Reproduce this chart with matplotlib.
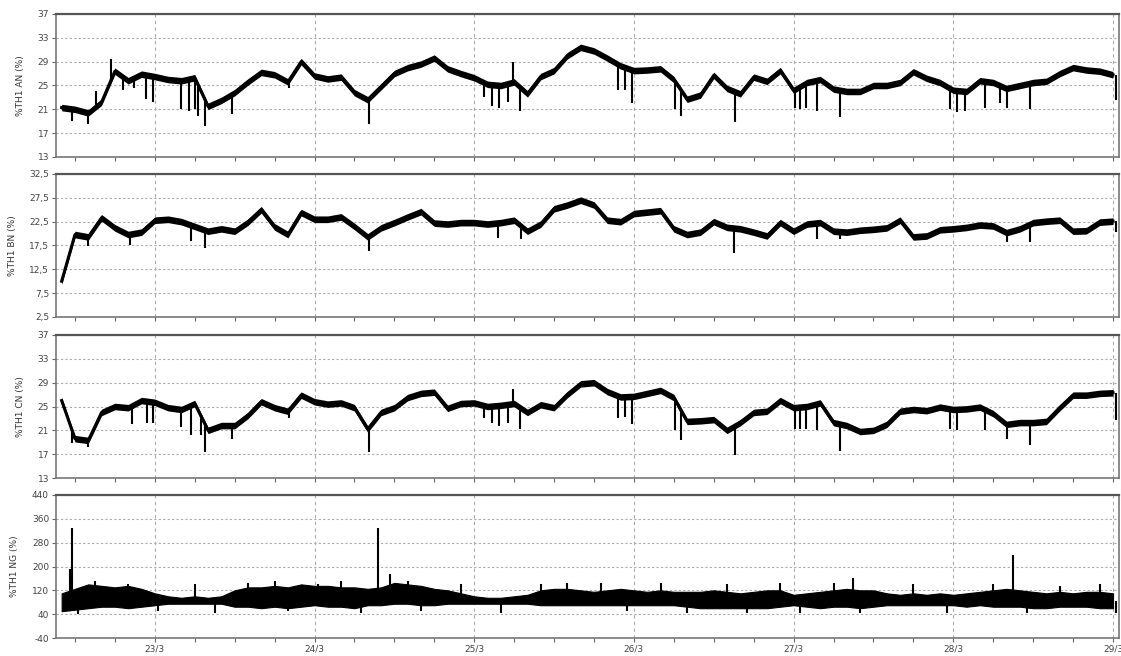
import numpy as np
import matplotlib.pyplot as plt

# time axis in hours counted from 22/3 00:00, one sample every 2 hours
hours = np.arange(10, 170, 2)

an_base = [21.3, 21.0, 20.4, 22.2, 27.4, 25.8, 26.9, 26.5, 26.0, 25.8,
           26.3, 21.5, 22.5, 23.8, 25.6, 27.2, 26.8, 25.6, 29.0, 26.6,
           26.1, 26.4, 23.8, 22.6, 24.8, 27.0, 28.0, 28.6, 29.6, 27.8,
           27.0, 26.3, 25.2, 25.0, 25.6, 23.6, 26.5, 27.5, 30.0, 31.4,
           30.8, 29.6, 28.3, 27.5, 27.6, 27.8, 26.0, 22.7, 23.4, 26.7,
           24.5, 23.6, 26.4, 25.7, 27.5, 24.2, 25.5, 26.0, 24.4, 24.0,
           24.0, 25.0, 25.0, 25.5, 27.3, 26.2, 25.5, 24.2, 24.0, 25.8,
           25.5, 24.5, 25.0, 25.5, 25.7, 27.0, 28.0, 27.6, 27.4, 26.8]
an_spike_t = [11.5, 13.9, 15.1, 17.4, 19.2, 20.8, 22.7, 23.8, 27.9, 29.2,
              30.0, 30.5, 31.5, 35.6, 44.1, 56.2, 73.4, 74.7, 75.8, 77.1,
              77.9, 78.9, 93.6, 94.6, 95.7, 102.1, 103.1, 111.2, 120.2, 121.0,
              121.8, 123.5, 126.9, 143.5, 144.5, 145.7, 148.7, 151.0, 152.0, 155.6,
              168.4]
an_spike_v = [19.0, 18.5, 24.1, 29.4, 24.3, 24.6, 22.7, 22.2, 21.0, 20.8,
              21.0, 19.9, 18.2, 20.2, 24.6, 18.5, 23.0, 21.6, 21.3, 22.2,
              29.0, 20.7, 24.3, 24.3, 22.1, 21.0, 19.9, 18.8, 21.3, 21.0,
              21.3, 20.7, 19.7, 21.0, 20.5, 20.8, 21.3, 22.0, 21.3, 21.0,
              22.5]

bn_base = [10.0, 19.8, 19.3, 23.3, 21.2, 19.8, 20.3, 22.8, 23.0, 22.5,
           21.5, 20.5, 21.0, 20.5, 22.4, 25.0, 21.4, 19.8, 24.4, 23.0,
           23.0, 23.5, 21.5, 19.3, 21.2, 22.3, 23.5, 24.6, 22.2, 22.0,
           22.3, 22.3, 22.0, 22.3, 22.8, 20.5, 22.0, 25.2, 26.0, 27.0,
           26.0, 22.8, 22.5, 24.2, 24.5, 24.8, 21.0, 19.8, 20.3, 22.5,
           21.3, 21.0, 20.3, 19.5, 22.3, 20.5, 22.0, 22.3, 20.5, 20.3,
           20.7, 20.9, 21.2, 22.8, 19.3, 19.5, 20.8, 21.0, 21.3, 21.8,
           21.6, 20.2, 21.0, 22.3, 22.6, 22.8, 20.5, 20.6, 22.4, 22.6]
bn_spike_t = [13.9, 20.3, 29.5, 31.5, 56.2, 75.6, 79.1, 111.0, 123.5, 126.9,
              152.0, 155.6, 168.4]
bn_spike_v = [17.4, 17.5, 18.4, 17.0, 16.3, 19.0, 18.8, 16.0, 18.8, 18.8,
              18.2, 18.2, 20.4]

cn_base = [26.0, 19.6, 19.3, 24.0, 25.0, 24.8, 26.0, 25.7, 24.8, 24.5,
           25.5, 21.0, 21.8, 21.8, 23.5, 25.8, 24.8, 24.2, 26.9, 25.8,
           25.4, 25.6, 24.8, 21.2, 24.0, 24.8, 26.5, 27.2, 27.4, 24.7,
           25.5, 25.6, 25.0, 25.2, 25.5, 24.0, 25.3, 24.8, 27.0, 28.8,
           29.0, 27.5, 26.6, 26.7, 27.2, 27.7, 26.5, 22.5, 22.6, 22.8,
           21.0, 22.3, 24.0, 24.2, 26.0, 24.8, 25.0, 25.6, 22.3, 21.8,
           20.8, 21.0, 22.0, 24.2, 24.5, 24.3, 24.9, 24.5, 24.6, 24.9,
           23.8, 22.0, 22.3, 22.3, 22.5, 24.8, 26.9, 26.9, 27.2, 27.3]
cn_spike_t = [11.5, 13.9, 20.5, 22.8, 23.8, 27.9, 29.5, 31.0, 31.5, 35.6,
              44.1, 56.2, 73.4, 74.7, 75.8, 77.1, 77.9, 78.9, 93.6, 94.6,
              95.7, 102.1, 103.1, 111.2, 120.2, 121.0, 121.8, 123.5, 126.9, 143.5,
              144.5, 148.7, 152.0, 155.6, 168.4]
cn_spike_v = [18.8, 18.2, 22.0, 22.3, 22.3, 21.5, 20.2, 20.2, 17.4, 19.6,
              23.0, 17.4, 23.1, 22.3, 21.7, 22.3, 28.0, 21.3, 23.0, 23.3,
              22.1, 21.0, 19.3, 16.8, 21.3, 21.3, 21.3, 21.0, 17.6, 21.3,
              21.0, 21.0, 19.6, 18.5, 22.8]

# neutral: low / high edge of the noisy band
ng_lo = [50, 55, 60, 65, 65, 60, 65, 70, 75, 75,
         75, 75, 75, 65, 65, 60, 65, 60, 65, 70,
         65, 65, 60, 70, 70, 75, 75, 70, 70, 75,
         75, 75, 75, 75, 75, 75, 70, 70, 70, 70,
         70, 70, 70, 70, 70, 70, 70, 65, 60, 60,
         60, 60, 60, 60, 65, 70, 65, 60, 65, 65,
         60, 65, 70, 70, 70, 70, 70, 70, 65, 70,
         65, 65, 65, 60, 60, 65, 65, 65, 60, 60]
ng_hi = [110, 125, 140, 135, 130, 135, 125, 110, 100, 95,
         100, 95, 100, 120, 130, 130, 135, 130, 140, 135,
         135, 130, 130, 125, 130, 145, 140, 135, 125, 120,
         110, 100, 95, 95, 100, 105, 120, 125, 125, 120,
         115, 120, 125, 120, 115, 120, 115, 115, 115, 120,
         115, 110, 115, 120, 120, 105, 110, 115, 120, 125,
         120, 120, 110, 105, 110, 105, 110, 105, 110, 115,
         120, 125, 120, 115, 110, 115, 110, 115, 115, 110]
ng_spike_t = [11.2, 11.6, 12.5, 15.0, 20.0, 24.5, 30.0, 33.0, 38.0, 42.0,
              44.0, 48.5, 52.0, 55.0, 57.5, 59.3, 62.0, 64.0, 70.0, 76.0,
              82.0, 86.0, 91.0, 95.0, 100.0, 104.0, 110.0, 113.0, 118.0, 121.0,
              126.0, 129.0, 130.0, 138.0, 143.0, 150.0, 152.9, 155.0, 160.0, 166.0,
              168.5]
ng_spike_v = [190, 330, 40, 150, 140, 50, 140, 45, 145, 150,
              50, 140, 150, 45, 330, 175, 150, 50, 140, 45,
              140, 145, 145, 50, 145, 45, 140, 45, 145, 45,
              145, 160, 45, 140, 45, 140, 240, 45, 135, 140,
              45]

an_range, an_ticks = (13, 37), [13, 17, 21, 25, 29, 33, 37]
bn_range, bn_ticks = (2.5, 32.5), [2.5, 7.5, 12.5, 17.5, 22.5, 27.5, 32.5]
ng_range, ng_ticks = (-40, 440), [-40, 40, 120, 200, 280, 360, 440]

day_ticks = [24, 48, 72, 96, 120, 144, 168]
day_labels = ["23/3", "24/3", "25/3", "26/3", "27/3", "28/3", "29/3"]

plt.rcParams['font.family'] = ['Liberation Sans Narrow', 'DejaVu Sans']

fig = plt.figure(figsize=(11.21, 6.56), dpi=100)
W, H = 1121.0, 656.0
tops = [14, 174, 335, 495]
ph = 143


def setup(ax, label, ylim, yt, bottom):
    ax.set_xlim(9.15, 168.9)
    ax.set_ylim(*ylim)
    ax.set_yticks(yt)
    ax.set_yticklabels([f"{v:g}".replace('.', ',') for v in yt])
    ax.set_xticks(day_ticks)
    ax.set_xticks(np.arange(12, 169, 6), minor=True)
    if bottom:
        ax.set_xticklabels(day_labels)
    else:
        ax.set_xticklabels([])
    ax.tick_params(axis='both', which='major', labelsize=6.5, colors='#666666',
                   length=3, width=0.8, labelcolor='#444444', pad=2)
    ax.tick_params(axis='x', which='minor', length=3, width=0.8, colors='#666666')
    ax.set_ylabel(label, fontsize=6.5, color='#333333', labelpad=9)
    ax.grid(axis='x', which='major', color='#aaaaaa', linestyle=(0, (3, 3)), lw=0.8)
    ax.grid(axis='y', which='major', color='#aaaaaa', linestyle=(0, (2, 2)), lw=0.8)
    ax.set_axisbelow(True)
    for s in ax.spines.values():
        s.set_color('#777777')
        s.set_linewidth(1.2)
    ax.spines['top'].set_color('#555555')
    ax.spines['top'].set_linewidth(1.6)


def draw_phase(ax, base, st, sv, half):
    base = np.array(base, dtype=float)
    ax.fill_between(hours, base - half, base + half, color='black', lw=0, zorder=2)
    ax.plot(hours, base, color='black', lw=2.2, zorder=3)
    st = np.array(st)
    ax.vlines(st, np.interp(st, hours, base), sv, color='black', lw=1.5, zorder=3)


ax1 = fig.add_axes([56 / W, 1 - (tops[0] + ph) / H, (1119 - 56) / W, ph / H])
draw_phase(ax1, an_base, an_spike_t, an_spike_v, 0.55)
setup(ax1, "%TH1 AN (%)", an_range, an_ticks, False)

ax2 = fig.add_axes([56 / W, 1 - (tops[1] + ph) / H, (1119 - 56) / W, ph / H])
draw_phase(ax2, bn_base, bn_spike_t, bn_spike_v, 0.7)
setup(ax2, "%TH1 BN (%)", bn_range, bn_ticks, False)

ax3 = fig.add_axes([56 / W, 1 - (tops[2] + ph) / H, (1119 - 56) / W, ph / H])
draw_phase(ax3, cn_base, cn_spike_t, cn_spike_v, 0.55)
setup(ax3, "%TH1 CN (%)", an_range, an_ticks, False)

ax4 = fig.add_axes([56 / W, 1 - (tops[3] + ph) / H, (1119 - 56) / W, ph / H])
ax4.fill_between(hours, ng_lo, ng_hi, color='black', lw=0.8, zorder=2)
ng_mid = (np.array(ng_lo) + np.array(ng_hi)) / 2
st = np.array(ng_spike_t)
ax4.vlines(st, np.interp(st, hours, ng_mid), ng_spike_v, color='black', lw=1.5, zorder=3)
setup(ax4, "%TH1 NG (%)", ng_range, ng_ticks, True)

fig.savefig('out.png', dpi=100)
